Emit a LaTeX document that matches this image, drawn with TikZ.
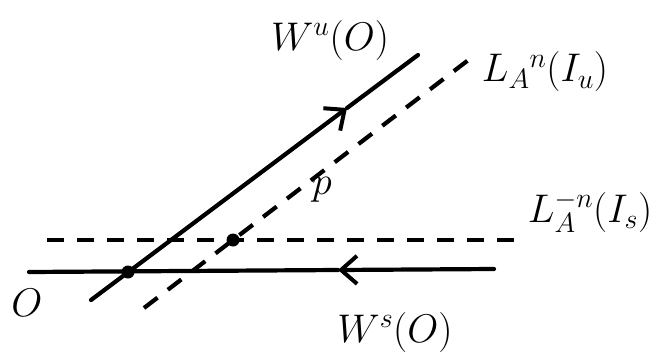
\RequirePackage{fix-cm}
\documentclass[tikz,border=0pt]{standalone}
\usetikzlibrary{arrows.meta}
\begin{document}
\begin{tikzpicture}[x=1pt,y=-1pt,
  manifold/.style={line width=4.2pt, line cap=round},
  dashline/.style={line width=4.2pt, dash pattern=on 17pt off 13pt},
  barb/.style={-{Straight Barb[length=16pt,width=28pt,line width=4pt]}},
  lbl/.style={font=\fontsize{40}{44}\selectfont, inner sep=0pt},
  dotnode/.style={circle, fill, inner sep=0pt, minimum size=13pt}]
\useasboundingbox (0,0) rectangle (652,356);
% end points
\coordinate (wu1) at (91,300);
\coordinate (wu2) at (418,55);
\coordinate (arrU) at (347,108);
\coordinate (ws1) at (494,269);
\coordinate (ws2) at (29,272);
\coordinate (arrS) at (338,270);
\coordinate (lu1) at (144,308);
\coordinate (lu2) at (471,58);
\coordinate (ls1) at (47,240);
\coordinate (ls2) at (517,240);
% dashed lines
\draw[dashline] (lu1) -- (lu2);
\draw[dashline] (ls1) -- (ls2);
% unstable manifold
\draw[manifold,barb] (wu1) -- (arrU);
\draw[manifold] (arrU) -- (wu2);
% stable manifold
\draw[manifold,barb] (ws1) -- (arrS);
\draw[manifold] (arrS) -- (ws2);
% points
\node[dotnode] (O) at (128,272) {};
\node[dotnode] (p) at (233,240) {};
% labels
\node[lbl] (lWu) at (330,40) {$W^u(O)$};
\node[lbl] (lLu) at (545,72) {$L_A{}^{n}(I_u)$};
\node[lbl] (lp) at (322,190) {$p$};
\node[lbl] (lLs) at (590,212) {$L_A^{-n}(I_s)$};
\node[lbl] (lO) at (27,303) {$O$};
\node[lbl] (lWs) at (395,332) {$W^s(O)$};
\end{tikzpicture}
\end{document}
